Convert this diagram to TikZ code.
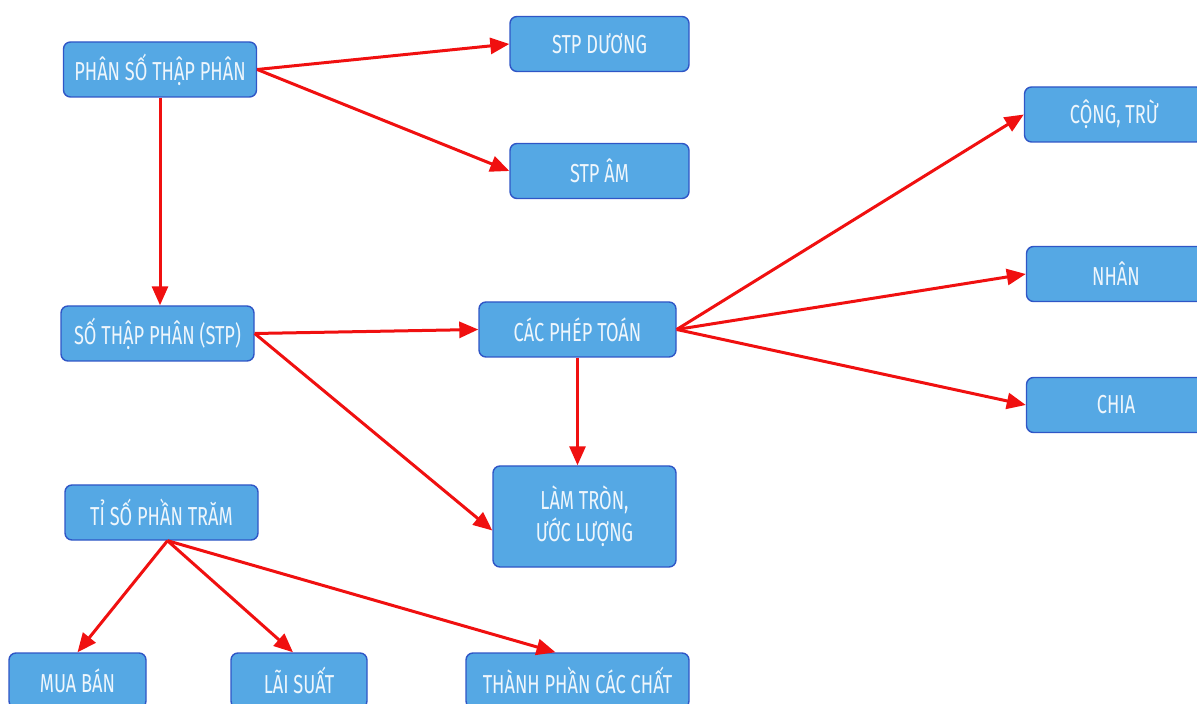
\documentclass[tikz,border=0pt]{standalone}
\usepackage{fontspec}
\setmainfont{Fira Sans}[FakeStretch=0.7]
\usetikzlibrary{arrows.meta}
\definecolor{boxfill}{HTML}{55A8E4}
\definecolor{boxline}{HTML}{2F56C6}
\definecolor{linkred}{HTML}{F01010}
\definecolor{boxtext}{HTML}{EEF6FC}

\begin{document}
\begin{tikzpicture}[x=0.5pt, y=-0.5pt,
  >={Triangle[length=9.5pt, width=8pt]},
  box/.style={draw=boxline, fill=boxfill, line width=0.7pt, rounded corners=3.5pt,
              text=boxtext, font=\fontsize{13}{16}\selectfont, align=center,
              minimum height=27.5pt, inner sep=0pt},
  link/.style={->, draw=linkred, line width=1.5pt}
]
\useasboundingbox (0,0) rectangle (1197,704);
% top row
\node[box, minimum width=96.5pt] (phanso) at (160,69.5) {PHÂN SỐ THẬP PHÂN};
\node[box, minimum width=89.5pt] (duong) at (599.5,44) {STP DƯƠNG};
\node[box, minimum width=89.5pt] (am) at (599.5,171) {STP ÂM};
% operations
\node[box, minimum width=89.5pt] (congtru) at (1114,114.5) {CỘNG, TRỪ};
\node[box, minimum width=89.5pt] (nhan) at (1116,274) {NHÂN};
\node[box, minimum width=89.5pt] (chia) at (1116,405) {CHIA};
\node[box, minimum width=96.5pt] (stp) at (157.5,333.5) {SỐ THẬP PHÂN (STP)};
\node[box, minimum width=98.5pt] (phep) at (577.5,329.5) {CÁC PHÉP TOÁN};
\node[box, minimum width=91.5pt, minimum height=50.5pt] (lamtron) at (584.5,516.5) {LÀM TRÒN,\\ƯỚC LƯỢNG};
% percentages
\node[box, minimum width=96.5pt] (tiso) at (161.5,512.5) {TỈ SỐ PHẦN TRĂM};
\node[box, minimum width=68.5pt] (muaban) at (77.5,680.5) {MUA BÁN};
\node[box, minimum width=68pt] (laisuat) at (299,680.5) {LÃI SUẤT};
\node[box, minimum width=111.5pt] (thanhphan) at (577.5,680.5) {THÀNH PHẦN CÁC CHẤT};

\draw[link] (phanso.east) -- (duong.west);
\draw[link] (phanso.east) -- (am.west);
\draw[link] (phanso) -- (phanso |- stp.north);
\draw[link] (stp.east) -- (phep.west);
\draw[link] (stp.east) -- ([yshift=-7pt]lamtron.west);
\draw[link] (phep) -- (phep |- lamtron.north);
\draw[link] (phep.east) -- (congtru.west);
\draw[link] (phep.east) -- (nhan.west);
\draw[link] (phep.east) -- (chia.west);
\draw[link] ([xshift=3pt]tiso.south) -- (muaban.north);
\draw[link] ([xshift=3pt]tiso.south) -- ([xshift=-3pt]laisuat.north);
\draw[link] ([xshift=3pt]tiso.south) -- ([xshift=-11pt]thanhphan.north);
\end{tikzpicture}
\end{document}
